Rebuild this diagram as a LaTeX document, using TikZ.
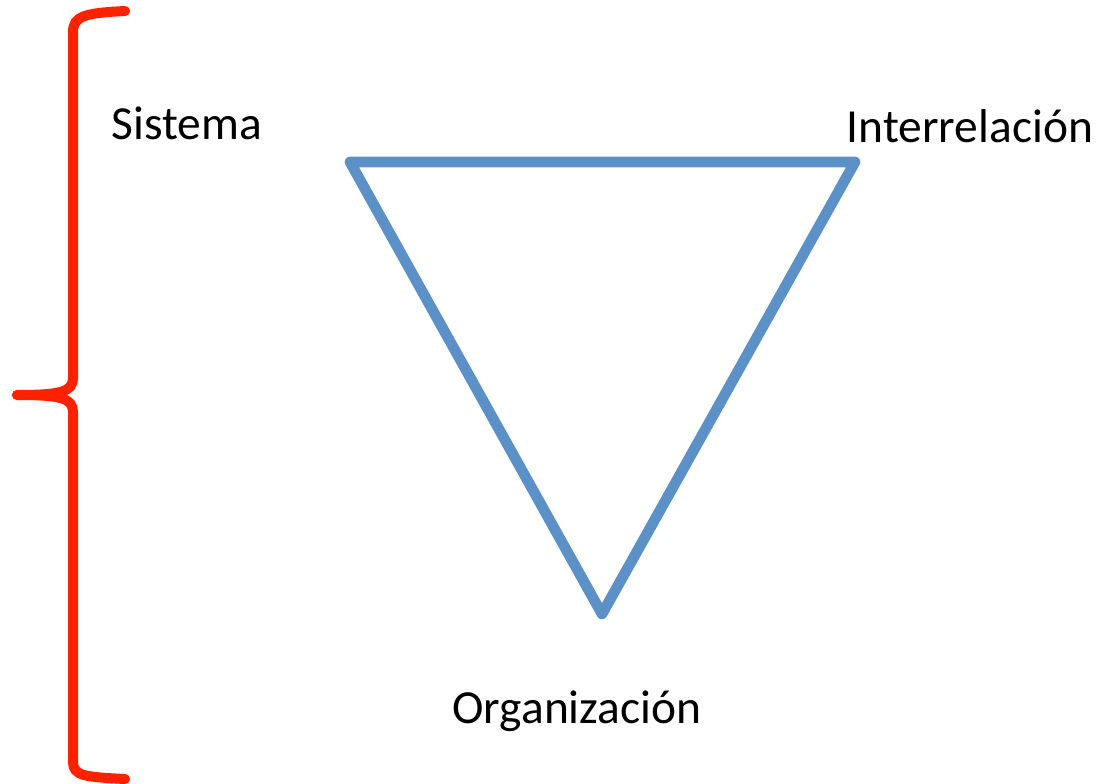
\documentclass[tikz,border=0pt]{standalone}
\usepackage{fontspec}
\setmainfont{Carlito}
\definecolor{triblue}{RGB}{92,145,200}
\definecolor{bracered}{RGB}{255,34,0}
\begin{document}
\begin{tikzpicture}[x=0.75pt,y=-0.75pt,
  lbl/.style={font=\fontsize{35.6}{42}\selectfont, inner sep=0pt, anchor=base},
  tri/.style={draw=triblue, line width=8pt, line join=round},
  brace/.style={draw=bracered, line width=7.5pt, line cap=round}]
\useasboundingbox (0,0) rectangle (1111,784);
% triangle
\coordinate (A) at (350,162);
\coordinate (B) at (855,162);
\coordinate (C) at (602,614);
\draw[tri] (A) -- (B) -- (C) -- cycle;
% brace
\coordinate (bt) at (125,11);
\coordinate (bm) at (17,395);
\coordinate (bb) at (125,779);
\draw[brace] (bt) .. controls (85,13) and (73,16) .. (73,32) -- (73,378)
  .. controls (73,392) and (60,395) .. (bm);
\draw[brace] (bm) .. controls (60,395) and (73,398) .. (73,412) -- (73,762)
  .. controls (73,776) and (85,777) .. (bb);
% labels
\node[lbl] (sis) at (187,140) {Sistema};
\node[lbl] (int) at (970,143) {Interrelación};
\node[lbl] (org) at (577,723) {Organización};
\end{tikzpicture}
\end{document}
